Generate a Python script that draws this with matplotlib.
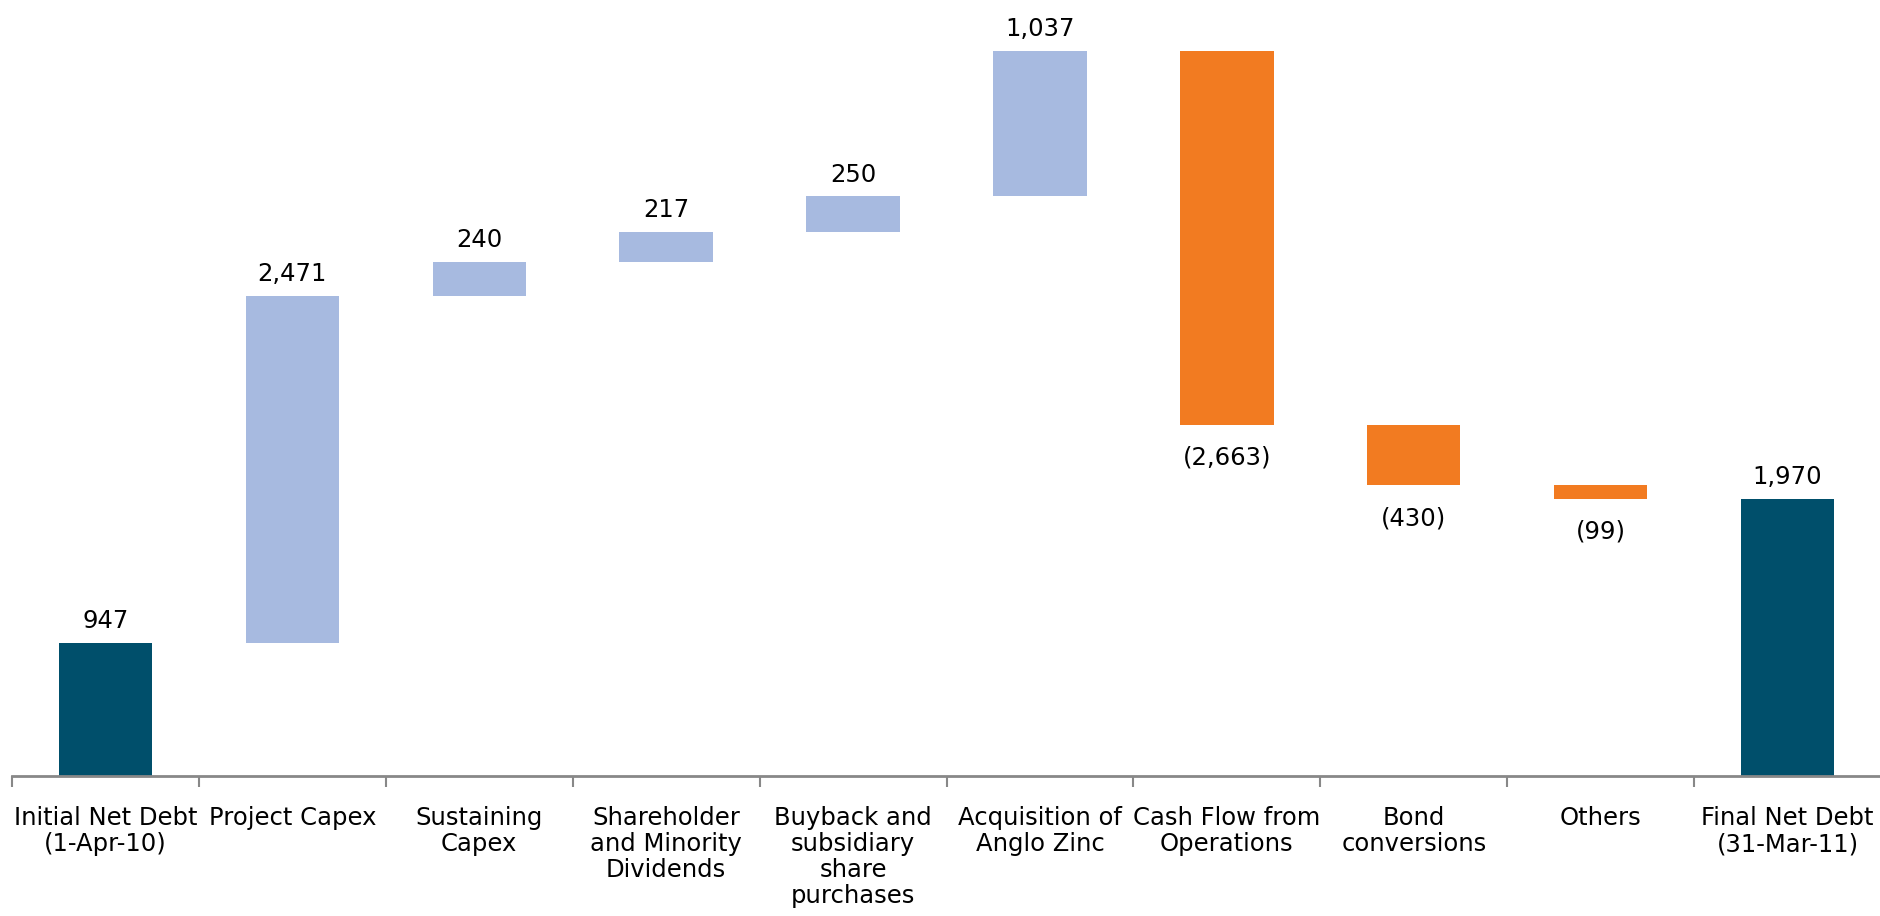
import matplotlib.pyplot as plt
import numpy as np

categories = ["Initial Net Debt\n(1-Apr-10)", "Project Capex", "Sustaining\nCapex",
              "Shareholder\nand Minority\nDividends", "Buyback and\nsubsidiary\nshare\npurchases",
              "Acquisition of\nAnglo Zinc", "Cash Flow from\nOperations", "Bond\nconversions",
              "Others", "Final Net Debt\n(31-Mar-11)"]
changes = [947, 2471, 240, 217, 250, 1037, -2663, -430, -99]
final_value = 1970
labels = ["947", "2,471", "240", "217", "250", "1,037", "(2,663)", "(430)", "(99)", "1,970"]

dark = "#004F6B"
light = "#A7BAE0"
orange = "#F27B21"

fig = plt.figure(figsize=(18.81, 9.16), dpi=100)
ax = fig.add_axes([0.0064, 0.153, 0.9936, 0.847])

x = np.arange(len(categories))
bottoms = []
heights = []
colors = []
running = 0
for i, c in enumerate(changes):
    if i == 0:
        bottoms.append(0)
        heights.append(c)
        colors.append(dark)
    elif c >= 0:
        bottoms.append(running)
        heights.append(c)
        colors.append(light)
    else:
        bottoms.append(running + c)
        heights.append(-c)
        colors.append(orange)
    running += c
bottoms.append(0)
heights.append(final_value)
colors.append(dark)

ax.bar(x, heights, bottom=bottoms, width=0.5, color=colors)

for i in range(len(categories)):
    neg = i < len(changes) and changes[i] < 0
    if neg:
        ax.annotate(labels[i], (x[i], bottoms[i]), xytext=(0, -15), textcoords="offset points",
                    ha="center", va="top", fontsize=17.5)
    else:
        ax.annotate(labels[i], (x[i], bottoms[i] + heights[i]), xytext=(0, 7), textcoords="offset points",
                    ha="center", va="bottom", fontsize=17.5)

ax.set_xlim(-0.5, len(categories) - 0.5)
ax.set_ylim(0, 5523)
for s in ["top", "right", "left"]:
    ax.spines[s].set_visible(False)
ax.spines["bottom"].set_color("#888888")
ax.spines["bottom"].set_linewidth(2)
ax.set_yticks([])
ax.set_xticks(x)
ax.set_xticklabels(categories, fontsize=17.5, linespacing=1.1)
ax.tick_params(axis="x", which="major", length=0, pad=22)
ax.set_xticks(np.arange(len(categories)) - 0.5, minor=True)
ax.tick_params(axis="x", which="minor", length=8, width=1.5, color="#888888")

fig.savefig("out.png", dpi=100)
